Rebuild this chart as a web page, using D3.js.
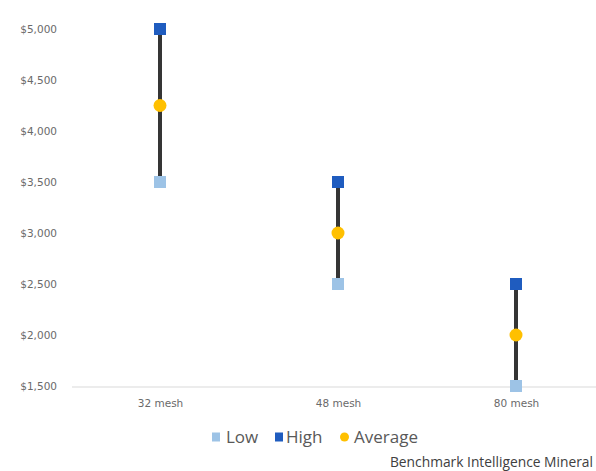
<!DOCTYPE html>
<html><head><meta charset="utf-8">
<script src="https://cdn.jsdelivr.net/npm/d3@7"></script>
<style>body{margin:0;background:#fff;} svg{display:block;font-family:"Open Sans","Noto Sans",sans-serif;}</style>
</head><body>
<svg id="c" width="596" height="471"></svg>
<script>
const categories = ["32 mesh", "48 mesh", "80 mesh"];
const lowValues = [3500, 2500, 1500];
const highValues = [5000, 3500, 2500];
const averageValues = [4250, 3000, 2000];
const yTicks = [1500, 2000, 2500, 3000, 3500, 4000, 4500, 5000];
const seriesNames = ["Low", "High", "Average"];
const sourceText = "Benchmark Intelligence Mineral";

const colors = {Low: "#9dc3e6", High: "#1f5cbf", Average: "#ffc000"};
const svg = d3.select("#c");
const x = d3.scalePoint().domain(categories).range([160, 516]);
const y = d3.scaleLinear().domain([1500, 5000]).range([386, 29]);

// y tick labels
const yAxis = d3.axisLeft(y).tickValues(yTicks).tickFormat(d => "$" + d3.format(",")(d)).tickSize(0).tickPadding(0);
const gy = svg.append("g").attr("transform", "translate(57,0)").call(yAxis);
gy.select(".domain").remove();
gy.selectAll("text").attr("fill", "#6a6a6a").style("font-family", "'DejaVu Sans',sans-serif").style("font-size", "10.5px");

// baseline
svg.append("line").attr("x1", 72).attr("x2", 596).attr("y1", y(1500) + 1).attr("y2", y(1500) + 1)
  .attr("stroke", "#d9d9d9").attr("stroke-width", 1);

// x labels
const xAxis = d3.axisBottom(x).tickSize(0).tickPadding(0);
const gx = svg.append("g").attr("transform", "translate(0,400)").call(xAxis);
gx.select(".domain").remove();
gx.selectAll("text").attr("fill", "#6a6a6a").style("font-family", "'DejaVu Sans',sans-serif").style("font-size", "10.5px");

// range lines
const rows = categories.map((c, i) => ({c, low: lowValues[i], high: highValues[i], avg: averageValues[i]}));
svg.selectAll(".rng").data(rows).enter().append("line")
  .attr("x1", d => x(d.c)).attr("x2", d => x(d.c))
  .attr("y1", d => y(d.low)).attr("y2", d => y(d.high))
  .attr("stroke", "#353535").attr("stroke-width", 4);

const s = 12;
svg.selectAll(".low").data(rows).enter().append("rect")
  .attr("x", d => x(d.c) - s/2).attr("y", d => y(d.low) - s/2).attr("width", s).attr("height", s)
  .attr("fill", colors.Low);
svg.selectAll(".high").data(rows).enter().append("rect")
  .attr("x", d => x(d.c) - s/2).attr("y", d => y(d.high) - s/2).attr("width", s).attr("height", s)
  .attr("fill", colors.High);
svg.selectAll(".avg").data(rows).enter().append("circle")
  .attr("cx", d => x(d.c)).attr("cy", d => y(d.avg)).attr("r", 6.5)
  .attr("fill", colors.Average);

// legend
const legendX = [212, 275, 340];
const lg = svg.append("g");
seriesNames.forEach((n, i) => {
  const g = lg.append("g").attr("transform", `translate(${legendX[i]},437)`);
  if (n === "Average") g.append("circle").attr("cx", 4.5).attr("cy", 0).attr("r", 4.5).attr("fill", colors[n]);
  else g.append("rect").attr("x", 0).attr("y", -4.5).attr("width", 8).attr("height", 9).attr("fill", colors[n]);
  g.append("text").attr("x", n === "Low" ? 14 : (n === "High" ? 11 : 14)).attr("y", 0).attr("dy", "0.35em").attr("fill", "#595959")
    .style("font-size", "17px").text(n);
});

svg.append("text").attr("x", 593).attr("y", 467).attr("text-anchor", "end")
  .attr("fill", "#404040").style("font-size", "13.8px").text(sourceText);
</script>
</body></html>
